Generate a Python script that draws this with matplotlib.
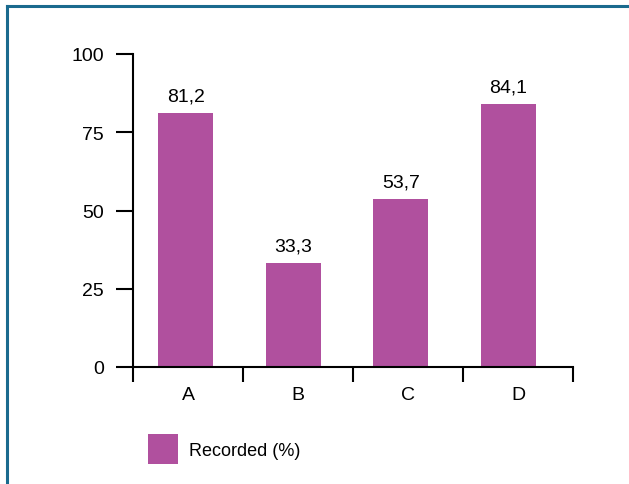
import matplotlib
matplotlib.use("Agg")
import matplotlib.pyplot as plt
import numpy as np
from matplotlib.lines import Line2D

categories = ["A", "B", "C", "D"]
values = [81.2, 33.3, 53.7, 84.1]
value_labels = ["81,2", "33,3", "53,7", "84,1"]
yticks = [0, 25, 50, 75, 100]
legend_label = "Recorded (%)"

bar_color = "#b0509e"
frame_color = "#1a6a8e"

plt.rcParams["font.family"] = ["Liberation Sans", "DejaVu Sans"]

fig = plt.figure(figsize=(6.29, 4.85), dpi=100)
ax = fig.add_axes([133 / 629, 1 - 368 / 485, 440 / 629, 313 / 485])

x = np.arange(len(categories))
bars = ax.bar(x, values, width=0.51, color=bar_color, label=legend_label)
for xi, v, lab in zip(x, values, value_labels):
    ax.annotate(lab, (xi, v), xytext=(0, 6), textcoords="offset points",
                ha="center", va="bottom", fontsize=14)

x0, x1 = -0.49, 3.6
ax.set_xlim(x0, x1)
ax.set_ylim(0, 100)
bounds = np.linspace(x0, x1, len(categories) + 1)
ax.set_xticks(bounds, minor=True)
ax.set_xticks((bounds[:-1] + bounds[1:]) / 2)
ax.set_xticklabels(categories, fontsize=14)
ax.tick_params(axis="x", which="major", length=0, pad=13.5)
ax.tick_params(axis="x", which="minor", length=11, width=1.5, direction="out")
ax.set_yticks(yticks)
ax.set_yticklabels([str(t) for t in yticks], fontsize=14)
ax.tick_params(axis="y", length=12, width=1.5, pad=9)

for s in ["top", "right"]:
    ax.spines[s].set_visible(False)
for s in ["left", "bottom"]:
    ax.spines[s].set_linewidth(1.5)

leg = fig.legend(handles=[bars], labels=[legend_label], loc="upper left",
                 bbox_to_anchor=(148 / 629, 1 - 435 / 485), frameon=False,
                 borderpad=0, borderaxespad=0, fontsize=13,
                 handlelength=1.66, handleheight=2.18, handletextpad=0.6)

# frame lines on top and left
fig.add_artist(Line2D([7 / 629, 1], [1 - 7 / 485, 1 - 7 / 485], color=frame_color,
                      lw=2.2, transform=fig.transFigure))
fig.add_artist(Line2D([7 / 629, 7 / 629], [0, 1 - 7 / 485], color=frame_color,
                      lw=2.2, transform=fig.transFigure))

fig.savefig("out.png", dpi=100)
